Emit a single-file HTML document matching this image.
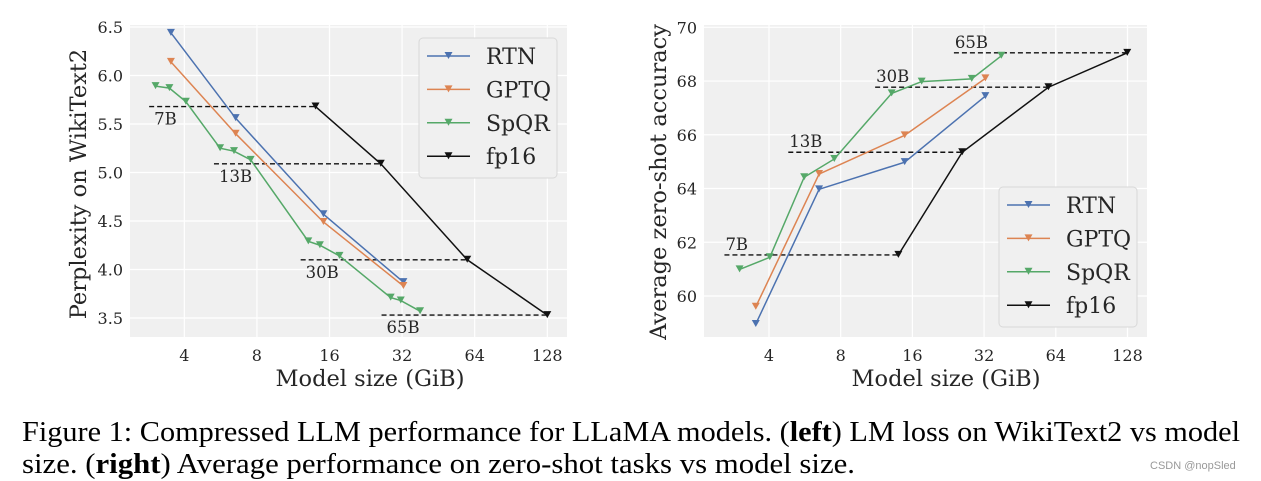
<!DOCTYPE html>
<html><head><meta charset="utf-8"><style>
html,body{margin:0;padding:0;background:#fff;width:1261px;height:481px;overflow:hidden}
svg{display:block}
.tk{font-family:"DejaVu Serif",serif;font-size:16px;fill:#262626}
.ax{font-family:"DejaVu Serif",serif;font-size:22.5px;fill:#262626}
.lg{font-family:"DejaVu Serif",serif;font-size:22px;fill:#262626}
.an{font-family:"DejaVu Serif",serif;font-size:16.5px;fill:#262626}
.cap{font-family:"Liberation Serif",serif;font-size:28px;fill:#000}
</style></head><body>
<svg id="s" width="1261" height="481">
<text class="cap" x="22" y="441" textLength="1218" lengthAdjust="spacingAndGlyphs">Figure 1: Compressed LLM performance for LLaMA models. (<tspan font-weight="bold">left</tspan>) LM loss on WikiText2 vs model</text>
<text class="cap" x="22" y="473" textLength="833" lengthAdjust="spacingAndGlyphs">size. (<tspan font-weight="bold">right</tspan>) Average performance on zero-shot tasks vs model size.</text>
<text x="1150" y="469" font-family="Liberation Sans,sans-serif" font-size="11" fill="#999">CSDN @nopSled</text>
</svg>
<script>
const colors=["#4C72B0","#DD8452","#55A868","#111111"];
const seriesNames=["RTN","GPTQ","SpQR","fp16"];
const xTicks=[4,8,16,32,64,128];
// left chart data
const L_rtnX=[3.52,6.53,15.1,32.4], L_rtnY=[6.44,5.56,4.57,3.87];
const L_gptqX=[3.52,6.53,15.1,32.4], L_gptqY=[6.14,5.40,4.49,3.83];
const L_spqrX=[3.04,3.47,4.06,5.63,6.43,7.54,13.07,14.6,17.6,28.7,31.6,38.0];
const L_spqrY=[5.89,5.87,5.73,5.25,5.22,5.13,4.29,4.25,4.14,3.71,3.68,3.57];
const L_fpX=[14.0,26.1,59.6,128], L_fpY=[5.68,5.09,4.10,3.53];
const L_refStart=[2.86,5.31,12.15,26.3];
const L_yTicks=[3.5,4.0,4.5,5.0,5.5,6.0,6.5];
const L_yTickLabels=["3.5","4.0","4.5","5.0","5.5","6.0","6.5"];
// right chart data
const R_rtnX=[3.52,6.49,14.85,32.4], R_rtnY=[58.96,63.97,64.98,67.44];
const R_gptqX=[3.52,6.49,14.85,32.4], R_gptqY=[59.60,64.54,65.98,68.10];
const R_spqrX=[3.01,4.03,5.62,7.52,13.09,17.5,28.4,37.8];
const R_spqrY=[60.99,61.44,64.42,65.10,67.54,67.98,68.08,68.94];
const R_fpX=[13.97,25.9,59.6,127.7], R_fpY=[61.53,65.35,67.77,69.05];
const R_refStart=[2.6,4.82,11.16,23.9];
const R_yTicks=[60,62,64,66,68,70];
const R_yTickLabels=["60","62","64","66","68","70"];
const modelLabels=["7B","13B","30B","65B"];

const svg=document.getElementById('s');
const NS="http://www.w3.org/2000/svg";
function mk(tag,attrs,parent){const e=document.createElementNS(NS,tag);for(const k in attrs)e.setAttribute(k,attrs[k]);(parent||svg).appendChild(e);return e;}

function chart(cfg){
  const g=mk('g',{});
  
  
  const xs=v=>cfg.x4+(Math.log2(v)-2)*cfg.xstep;
  const ys=v=>cfg.yA+(v-cfg.vA)*(cfg.yB-cfg.yA)/(cfg.vB-cfg.vA);
  const bg=mk('rect',{x:cfg.l,y:cfg.t,width:cfg.r-cfg.l,height:cfg.b-cfg.t,fill:'#f0f0f0'},g);
  
  
  xTicks.forEach(v=>{
    const x=xs(v);
    const gl=mk('line',{x1:x,x2:x,y1:cfg.t,y2:cfg.b,stroke:'#fff','stroke-width':1.2},g);
    
    
    const t=mk('text',{x:x,y:cfg.b+24,'text-anchor':'middle',class:'tk'},g);t.textContent=v;
    
    
  });
  cfg.yTicks.forEach((v,i)=>{
    const y=ys(v);
    const gl=mk('line',{x1:cfg.l,x2:cfg.r,y1:y,y2:y,stroke:'#fff','stroke-width':1.2},g);
    
    
    const t=mk('text',{x:cfg.l-7,y:y+6,'text-anchor':'end',class:'tk'},g);t.textContent=cfg.yTickLabels[i];
    
    
  });
  cfg.ref.forEach((s,i)=>{
    const y=ys(cfg.fpY[i]);
    const ln=mk('line',{x1:xs(s),x2:xs(cfg.fpX[i]),y1:y,y2:y,stroke:'#111','stroke-width':1.4,'stroke-dasharray':'5,3'},g);
    
    
    const t=mk('text',{x:xs(s)+(cfg.above?1:5),y:cfg.above?y-5:y+18,class:'an'},g);t.textContent=modelLabels[i];
    
    
  });
  cfg.series.forEach((sr,si)=>{
    const pts=sr[0].map((v,i)=>xs(v)+','+ys(sr[1][i])).join(' ');
    const pl=mk('polyline',{points:pts,fill:'none',stroke:colors[si],'stroke-width':1.5},g);
    
    
    sr[0].forEach((v,i)=>{
      const x=xs(v),y=ys(sr[1][i]);
      const m=mk('path',{d:`M${x-4},${y-4}L${x+4},${y-4}L${x},${y+3}Z`,fill:colors[si]},g);
      
      
    });
  });
  const lg=mk('g',{},g);
  
  
  mk('rect',{x:cfg.lgx,y:cfg.lgy,width:138,height:140,rx:4,fill:'#f0f0f0',stroke:'#d8d8d8'},lg);
  seriesNames.forEach((n,i)=>{
    const y=cfg.lgy+18+i*33.4;
    const e=mk('g',{},lg);
    
    
    mk('line',{x1:cfg.lgx+8,x2:cfg.lgx+51,y1:y,y2:y,stroke:colors[i],'stroke-width':1.5},e);
    const mx=cfg.lgx+29.5;
    mk('path',{d:`M${mx-4},${y-4}L${mx+4},${y-4}L${mx},${y+3}Z`,fill:colors[i]},e);
    const t=mk('text',{x:cfg.lgx+67,y:y+8,class:'lg'},e);t.textContent=n;
  });
  const xl=mk('text',{x:cfg.xlx,y:386,'text-anchor':'middle',class:'ax'},g);xl.textContent='Model size (GiB)';
  
  
  const yl=mk('text',{x:0,y:0,'text-anchor':'middle',class:'ax',transform:`translate(${cfg.ylx},${cfg.yly}) rotate(-90)`},g);yl.textContent=cfg.ylabel;
  
  
}
chart({name:'left-chart',l:130,r:567,t:25,b:337,x4:184.3,xstep:72.6,yA:318,vA:3.5,yB:27,vB:6.5,
  yTicks:L_yTicks,yTickLabels:L_yTickLabels,ref:L_refStart,fpX:L_fpX,fpY:L_fpY,above:false,
  series:[[L_rtnX,L_rtnY],[L_gptqX,L_gptqY],[L_spqrX,L_spqrY],[L_fpX,L_fpY]],
  lgx:419,lgy:38,xlx:370,ylx:86,yly:184,ylabel:'Perplexity on WikiText2'});
chart({name:'right-chart',l:704,r:1147,t:25,b:337,x4:769,xstep:71.7,yA:296,vA:60,yB:27.3,vB:70,
  yTicks:R_yTicks,yTickLabels:R_yTickLabels,ref:R_refStart,fpX:R_fpX,fpY:R_fpY,above:true,
  series:[[R_rtnX,R_rtnY],[R_gptqX,R_gptqY],[R_spqrX,R_spqrY],[R_fpX,R_fpY]],
  lgx:999,lgy:187,xlx:946,ylx:666,yly:182,ylabel:'Average zero-shot accuracy'});
</script>
</body></html>
